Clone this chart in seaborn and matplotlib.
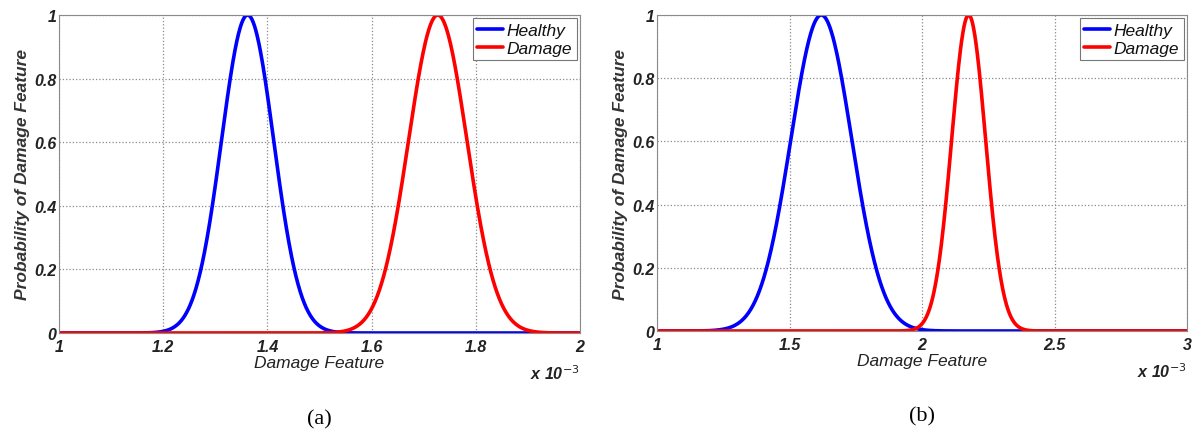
import numpy as np
import pandas as pd
import matplotlib
matplotlib.use("Agg")
import matplotlib.pyplot as plt
import seaborn as sns

# Normal-distribution fits of the damage feature (units of 1e-3)
panels = ["(a)", "(b)"]
healthy_mean = [1.362, 1.620]
healthy_std = [0.050, 0.115]
damage_mean = [1.727, 2.176]
damage_std = [0.056, 0.064]
x_limits = [(1.0, 2.0), (1.0, 3.0)]
x_ticks = [[1.0, 1.2, 1.4, 1.6, 1.8, 2.0], [1.0, 1.5, 2.0, 2.5, 3.0]]
x_tick_labels = [["1", "1.2", "1.4", "1.6", "1.8", "2"], ["1", "1.5", "2", "2.5", "3"]]
y_ticks = [0, 0.2, 0.4, 0.6, 0.8, 1.0]
y_tick_labels = ["0", "0.2", "0.4", "0.6", "0.8", "1"]
series = ["Healthy", "Damage"]
colors = {"Healthy": "#0000ff", "Damage": "#ff0000"}

sns.set_style("white")
plt.rcParams["font.family"] = ["Liberation Sans", "DejaVu Sans"]

fig = plt.figure(figsize=(12.04, 4.39), dpi=100)
positions = [
    [59 / 1204, 105 / 439, 521 / 1204, 318 / 439],
    [657 / 1204, 107 / 439, 530 / 1204, 316 / 439],
]

for i in range(2):
    ax = fig.add_axes(positions[i])
    lo, hi = x_limits[i]
    x = np.linspace(lo, hi, 1200)
    frames = []
    for name, mu, sd in ((series[0], healthy_mean[i], healthy_std[i]),
                         (series[1], damage_mean[i], damage_std[i])):
        # pdf scaled to unit peak
        frames.append(pd.DataFrame({"x": x,
                                    "p": np.exp(-0.5 * ((x - mu) / sd) ** 2),
                                    "state": name}))
    df = pd.concat(frames, ignore_index=True)
    sns.lineplot(data=df, x="x", y="p", hue="state", hue_order=series,
                 palette=colors, linewidth=2.6, ax=ax, legend=True,
                 estimator=None, sort=False)

    ax.set_xlim(lo, hi)
    ax.set_ylim(0, 1)
    ax.set_xticks(x_ticks[i])
    ax.set_xticklabels(x_tick_labels[i])
    ax.set_yticks(y_ticks)
    ax.set_yticklabels(y_tick_labels)
    for lab in ax.get_xticklabels() + ax.get_yticklabels():
        lab.set_fontstyle("italic")
        lab.set_fontweight("bold")
        lab.set_fontsize(11.5)
        lab.set_color("#222222")
    ax.tick_params(axis="both", direction="in", length=3, width=0.6,
                   color="#777777", pad=2)
    ax.tick_params(axis="x", pad=4)
    ax.grid(True, linestyle=":", color="#8a8a8a", linewidth=0.9)
    for s in ax.spines.values():
        s.set_color("#8a8a8a")
        s.set_linewidth(0.8)

    ax.set_xlabel("Damage Feature", fontsize=12.5, fontstyle="italic",
                  color="#222222", labelpad=1)
    ax.set_ylabel("Probability of Damage Feature", fontsize=12.5,
                  fontstyle="italic", fontweight="bold", color="#333333",
                  labelpad=3)
    ax.text(1.0, -0.095, r"x 10$^{-3}$", transform=ax.transAxes,
            ha="right", va="top", fontsize=11.5, fontstyle="italic",
            fontweight="bold", color="#222222")

    leg = ax.legend(loc="upper right", handlelength=1.5, handletextpad=0.2,
                    borderpad=0.25, labelspacing=0.15, borderaxespad=0.2,
                    fancybox=False, framealpha=1, edgecolor="#777777",
                    prop={"style": "italic", "size": 12.5})
    leg.get_frame().set_linewidth(0.8)
    for t in leg.get_texts():
        t.set_color("#111111")

    ax.text(0.5, -0.27, panels[i], transform=ax.transAxes, ha="center",
            va="center", fontsize=16, family="Liberation Serif",
            color="black")

fig.savefig("out.png", dpi=100, facecolor="white")
